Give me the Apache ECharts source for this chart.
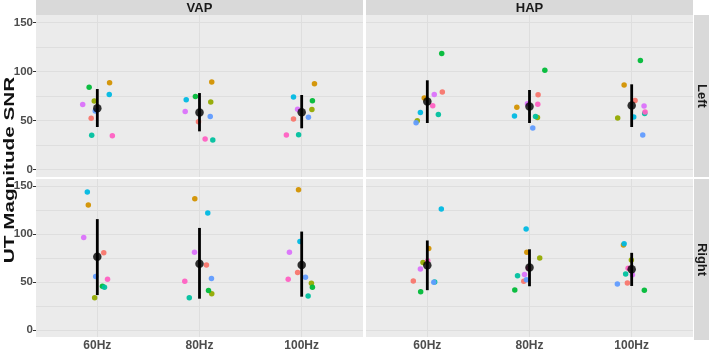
<!DOCTYPE html>
<html style="height: 100%; margin: 0">
<head>
<meta charset="UTF-8">
<title>UT Magnitude SNR</title>
</head>
<body style="height: 100%; margin: 0">
<div id="container" style="width:709px;height:352px"></div>
<script type="text/javascript" src="https://cdn.jsdelivr.net/npm/echarts@6/dist/echarts.min.js"></script>
<script type="text/javascript">
	var conditions = ['60Hz', '80Hz', '100Hz'];
	var yTicks = [0, 50, 100, 150];
	var yGridLines = [0, 25, 50, 75, 100, 125, 150];
	var xGridLines = [1, 2, 3];
	// subject order: 1..9 (ggplot hue palette)
	var subjectColors = ['#F8766D', '#D39200', '#93AA00', '#00BA38', '#00C19F', '#00B9E3', '#619CFF', '#DB72FB', '#FF61C3'];

	// rows = subjects, columns = 60Hz, 80Hz, 100Hz
	var vapLeftSNR = [[52.3, 48.9, 51.6], [88.6, 89.3, 87.6], [69.8, 68.8, 61.2], [83.8, 74.5, 70.1], [34.9, 30.1, 35.5],
		[76.6, 71.1, 73.9], [59.8, 54.0, 53.4], [66.3, 59.2, 61.6], [34.5, 31.1, 35.2]];
	var vapLeftJitter = [[-0.06, -0.01, -0.08], [0.12, 0.12, 0.125], [-0.03, 0.11, 0.10], [-0.08, -0.04, 0.105], [-0.055, 0.13, -0.03],
		[0.117, -0.13, -0.08], [-0.02, 0.105, 0.066], [-0.143, -0.14, -0.04], [0.147, 0.055, -0.15]];
	var vapLeftMean = [62.6, 58.1, 58.5];
	var vapLeftLow = [43.4, 39.0, 42.1];
	var vapLeftHigh = [82.1, 78.0, 76.0];

	var hapLeftSNR = [[79.0, 76.3, 70.4], [72.9, 63.6, 86.2], [49.9, 53.0, 52.7], [118.4, 101.2, 111.2], [56.1, 54.0, 57.1],
		[58.1, 54.7, 53.7], [47.8, 42.4, 35.2], [76.6, 67.0, 64.7], [65.0, 66.7, 58.8]];
	var hapLeftJitter = [[0.147, 0.084, 0.033], [-0.03, -0.124, -0.074], [-0.098, 0.078, -0.137], [0.141, 0.15, 0.085], [0.108, 0.059, 0.127],
		[-0.068, -0.147, 0.02], [-0.11, 0.032, 0.108], [0.068, -0.02, 0.121], [0.053, 0.081, 0.131]];
	var hapLeftMean = [69.4, 64.3, 65.3];
	var hapLeftLow = [47.5, 47.5, 43.4];
	var hapLeftHigh = [91.0, 81.1, 86.9];

	var vapRightSNR = [[80.4, 67.7, 59.9], [130.3, 136.8, 146.4], [33.5, 37.6, 48.6], [45.5, 41.0, 44.5], [44.5, 33.5, 35.3],
		[144.0, 122.1, 92.3], [55.8, 53.7, 54.8], [96.4, 81.0, 81.0], [52.7, 50.7, 52.7]];
	var vapRightJitter = [[0.063, 0.068, -0.04], [-0.088, -0.046, -0.031], [-0.026, 0.12, 0.095], [0.05, 0.088, 0.105], [0.07, -0.10, 0.063],
		[-0.098, 0.081, -0.017], [-0.016, 0.117, 0.037], [-0.133, -0.049, -0.12], [0.1, -0.144, -0.132]];
	var vapRightMean = [76.3, 69.1, 67.7];
	var vapRightLow = [36.3, 32.5, 34.6];
	var vapRightHigh = [115.6, 106.4, 102.6];

	var hapRightSNR = [[51.0, 50.7, 48.9], [84.8, 81.0, 88.6], [70.2, 74.9, 72.8], [39.7, 41.7, 41.4], [49.9, 56.4, 58.2],
		[126.2, 105.3, 90.0], [49.6, 52.3, 47.9], [63.6, 57.8, 57.4], [72.2, 64.3, 64.3]];
	var hapRightJitter = [[-0.137, -0.056, -0.042], [0.014, -0.026, -0.081], [-0.042, 0.1, -0.003], [-0.065, -0.144, 0.124], [0.072, -0.117, -0.059],
		[0.137, -0.033, -0.074], [0.063, -0.03, -0.14], [-0.068, -0.049, 0.007], [0.004, -0.01, -0.035]];
	var hapRightMean = [67.4, 65.0, 63.3];
	var hapRightLow = [41.4, 45.5, 45.8];
	var hapRightHigh = [93.3, 84.1, 80.4];

	var panels = [
		{ snr: vapLeftSNR, jit: vapLeftJitter, mean: vapLeftMean, lo: vapLeftLow, hi: vapLeftHigh },
		{ snr: hapLeftSNR, jit: hapLeftJitter, mean: hapLeftMean, lo: hapLeftLow, hi: hapLeftHigh },
		{ snr: vapRightSNR, jit: vapRightJitter, mean: vapRightMean, lo: vapRightLow, hi: vapRightHigh },
		{ snr: hapRightSNR, jit: hapRightJitter, mean: hapRightMean, lo: hapRightLow, hi: hapRightHigh }
	];

	var font = '"Liberation Sans", Arial, sans-serif';
	var gridBoxes = [
		{ left: 36, top: 15, width: 327, height: 162 },
		{ left: 366, top: 15, width: 327, height: 162 },
		{ left: 36, top: 179, width: 327, height: 161 },
		{ left: 366, top: 179, width: 327, height: 161 }
	];

	var grids = [], xAxes = [], yAxes = [], series = [];
	gridBoxes.forEach(function (b, g) {
		grids.push({ left: b.left, top: b.top, width: b.width, height: b.height, show: true, backgroundColor: '#EBEBEB', borderWidth: 0 });
		var bottom = g >= 2, left = g % 2 === 0;
		xAxes.push({
			gridIndex: g, type: 'value', min: 0.4, max: 3.6,
			axisLine: { show: false }, splitLine: { show: false },
			axisTick: { show: bottom, customValues: xGridLines, length: 3, lineStyle: { color: '#333' } },
			axisLabel: {
				show: bottom, customValues: xGridLines, margin: 3,
				formatter: function (v) { return conditions[Math.round(v) - 1]; },
				color: '#4D4D4D', fontWeight: 'bold', fontSize: 12, fontFamily: font
			}
		});
		yAxes.push({
			gridIndex: g, type: 'value', min: -7.5, max: 157.5,
			axisLine: { show: false }, splitLine: { show: false },
			axisTick: { show: left, customValues: yTicks, length: 3, lineStyle: { color: '#333' } },
			axisLabel: { show: left, customValues: yTicks, margin: 3, color: '#4D4D4D', fontWeight: 'bold', fontSize: 11.5, fontFamily: font }
		});

		var p = panels[g];
		// grid lines
		series.push({
			type: 'scatter', xAxisIndex: g, yAxisIndex: g, data: [], silent: true,
			markLine: {
				silent: true, symbol: 'none', z: 1, label: { show: false },
				lineStyle: { color: '#DEDEDE', width: 1, type: 'solid' },
				data: yGridLines.map(function (v) { return { yAxis: v }; }).concat(xGridLines.map(function (v) { return { xAxis: v }; }))
			}
		});
		// subject points
		var pts = [];
		p.snr.forEach(function (row, s) {
			row.forEach(function (v, c) {
				pts.push({ value: [c + 1 + p.jit[s][c], v], itemStyle: { color: subjectColors[s] } });
			});
		});
		series.push({ type: 'scatter', xAxisIndex: g, yAxisIndex: g, data: pts, symbolSize: 5.5, z: 2, itemStyle: { opacity: 0.95 } });
		// error bars
		series.push({
			type: 'custom', xAxisIndex: g, yAxisIndex: g, z: 3,
			data: conditions.map(function (c, i) { return [i + 1, p.lo[i], p.hi[i]]; }),
			renderItem: function (params, api) {
				var a = api.coord([api.value(0), api.value(1)]);
				var b2 = api.coord([api.value(0), api.value(2)]);
				return { type: 'line', shape: { x1: a[0], y1: a[1], x2: b2[0], y2: b2[1] }, style: { stroke: '#000', lineWidth: 2.8 } };
			}
		});
		// means
		series.push({
			type: 'scatter', xAxisIndex: g, yAxisIndex: g, z: 4, symbolSize: 8.5,
			itemStyle: { color: '#000' },
			data: conditions.map(function (c, i) { return [i + 1, p.mean[i]]; })
		});
	});

	var stripText = { fill: '#1A1A1A', font: 'bold 13px ' + font, align: 'center', verticalAlign: 'middle' };
	var graphics = [
		{ type: 'rect', shape: { x: 36, y: 0, width: 327, height: 15 }, style: { fill: '#D9D9D9' } },
		{ type: 'rect', shape: { x: 366, y: 0, width: 327, height: 15 }, style: { fill: '#D9D9D9' } },
		{ type: 'rect', shape: { x: 694, y: 15, width: 15, height: 162 }, style: { fill: '#D9D9D9' } },
		{ type: 'rect', shape: { x: 694, y: 179, width: 15, height: 161 }, style: { fill: '#D9D9D9' } },
		{ type: 'text', x: 199.5, y: 8, style: Object.assign({ text: 'VAP' }, stripText) },
		{ type: 'text', x: 529.5, y: 8, style: Object.assign({ text: 'HAP' }, stripText) },
		{ type: 'text', x: 701.5, y: 96, rotation: -Math.PI / 2, style: Object.assign({ text: 'Left' }, stripText) },
		{ type: 'text', x: 701.5, y: 259.5, rotation: -Math.PI / 2, style: Object.assign({ text: 'Right' }, stripText) },
		{ type: 'text', x: 10, y: 170, rotation: Math.PI / 2, scaleX: 1.38, style: { text: 'UT Magnitude SNR', fill: '#111', font: 'bold 15px ' + font, align: 'center', verticalAlign: 'middle' } }
	];

	var myChart = echarts.init(document.getElementById('container'));
	var option = {
		animation: false,
		backgroundColor: '#fff',
		grid: grids,
		xAxis: xAxes,
		yAxis: yAxes,
		graphic: graphics,
		series: series
	};
	myChart.setOption(option, true);
</script>
</body>
</html>
